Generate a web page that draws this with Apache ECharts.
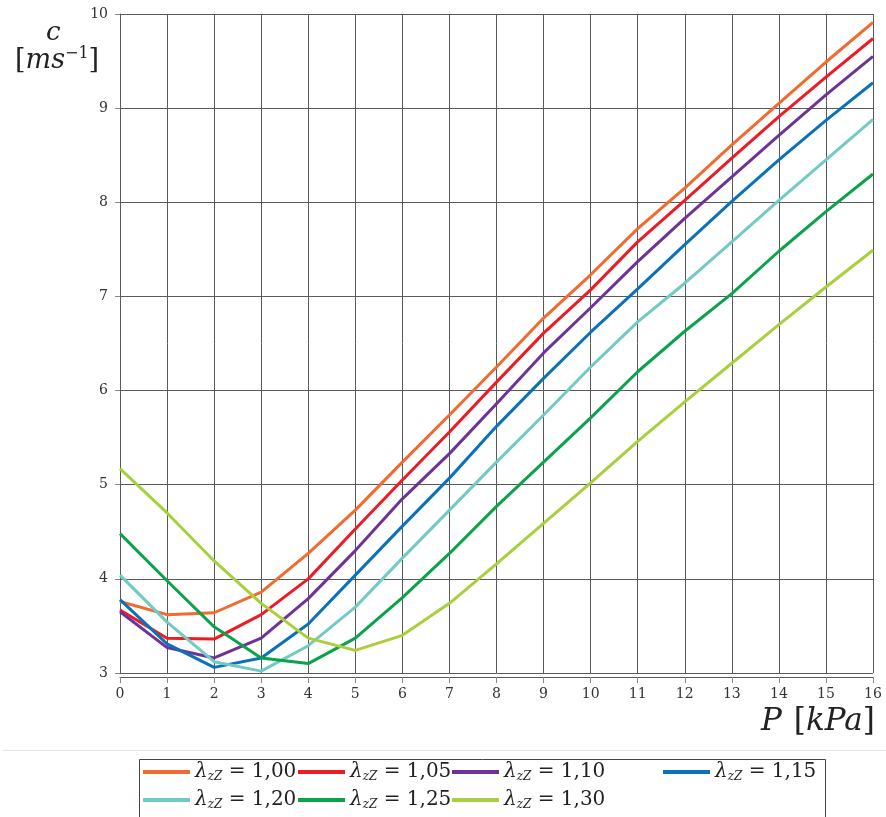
<!DOCTYPE html>
<html>
<head>
<meta charset="utf-8">
<script src="https://cdn.jsdelivr.net/npm/echarts@6/dist/echarts.min.js"></script>
<style>
html,body{margin:0;padding:0;background:#fff;}
#chart{width:886px;height:817px;}
</style>
</head>
<body>
<div id="chart"></div>
<script>
// ---- data ----
var pressure = [0, 1, 2, 3, 4, 5, 6, 7, 8, 9, 10, 11, 12, 13, 14, 15, 16];
var lambdaLabels = ['1,00', '1,05', '1,10', '1,15', '1,20', '1,25', '1,30'];
var c100 = [3.76, 3.62, 3.64, 3.86, 4.27, 4.73, 5.24, 5.74, 6.25, 6.77, 7.23, 7.72, 8.15, 8.61, 9.05, 9.49, 9.91];
var c105 = [3.67, 3.37, 3.36, 3.62, 4.00, 4.53, 5.05, 5.56, 6.09, 6.61, 7.07, 7.58, 8.02, 8.47, 8.91, 9.33, 9.74];
var c110 = [3.65, 3.27, 3.16, 3.37, 3.79, 4.30, 4.85, 5.33, 5.86, 6.40, 6.88, 7.37, 7.83, 8.27, 8.71, 9.14, 9.55];
var c115 = [3.78, 3.31, 3.06, 3.16, 3.52, 4.04, 4.56, 5.07, 5.62, 6.13, 6.62, 7.08, 7.55, 8.01, 8.45, 8.87, 9.27];
var c120 = [4.04, 3.54, 3.12, 3.02, 3.29, 3.70, 4.22, 4.73, 5.24, 5.74, 6.25, 6.73, 7.14, 7.58, 8.02, 8.45, 8.88];
var c125 = [4.48, 3.98, 3.49, 3.16, 3.10, 3.37, 3.80, 4.27, 4.77, 5.24, 5.71, 6.20, 6.63, 7.03, 7.48, 7.90, 8.30];
var c130 = [5.17, 4.70, 4.19, 3.74, 3.37, 3.24, 3.40, 3.74, 4.16, 4.59, 5.02, 5.46, 5.88, 6.29, 6.70, 7.10, 7.49];
var yTicks = [3, 4, 5, 6, 7, 8, 9, 10];
var xTicks = pressure;

var allSeries = [c100, c105, c110, c115, c120, c125, c130];
var colors = ['#F26A2E', '#ED1C24', '#6E3396', '#0A72B8', '#72CAC4', '#0BA24C', '#A9CF3C'];
var names = lambdaLabels.map(function (l) { return 'λzZ = ' + l; });

var serif = '"DejaVu Serif", "Liberation Serif", serif';
var gridColor = '#5a5a5a';

var series = allSeries.map(function (vals, i) {
  return {
    name: names[i],
    type: 'line',
    data: vals.map(function (v, k) { return [pressure[k], v]; }),
    showSymbol: false,
    symbol: 'none',
    lineStyle: { color: colors[i], width: 3 },
    itemStyle: { color: colors[i] },
    z: 3
  };
});

var legendPos = [
  [143, 762], [298, 762], [452, 762], [663, 762],
  [143, 790], [298, 790], [452, 790]
];
var richLegend = {
  l: { fontFamily: serif, fontStyle: 'italic', fontSize: 20, color: '#222' },
  s: { fontFamily: serif, fontStyle: 'italic', fontSize: 12, color: '#222', padding: [10, 0, 0, 0] },
  t: { fontFamily: serif, fontSize: 20, color: '#222' }
};
var legends = names.map(function (n, i) {
  return {
    data: [{ name: n, icon: 'rect' }],
    left: legendPos[i][0],
    top: legendPos[i][1],
    padding: 0,
    itemWidth: 47,
    itemHeight: 4,
    selectedMode: false,
    formatter: function (name) {
      return '{l|λ}{s|zZ}{t| = ' + name.split('= ')[1] + '}';
    },
    textStyle: { rich: richLegend }
  };
});

var chart = echarts.init(document.getElementById('chart'), null, { renderer: 'canvas' });
chart.setOption({
  animation: false,
  backgroundColor: '#fff',
  color: colors,
  title: [
    {
      text: 'c', left: 46, top: 20, padding: 0,
      textStyle: { fontFamily: serif, fontStyle: 'italic', fontWeight: 'normal', fontSize: 26, color: '#222' }
    },
    {
      text: '{b|[}{i|ms}{p|−1}{b|]}', left: 15, top: 46, padding: 0,
      textStyle: {
        fontWeight: 'normal',
        rich: {
          b: { fontFamily: serif, fontWeight: 'normal', fontSize: 27, color: '#222' },
          i: { fontFamily: serif, fontWeight: 'normal', fontStyle: 'italic', fontSize: 27, color: '#222' },
          p: { fontFamily: serif, fontWeight: 'normal', fontSize: 16, color: '#222', padding: [0, 0, 14, 0] }
        }
      }
    },
    {
      text: '{i|P}{g| }{b|[}{i|kPa}{b|]}', left: 761, top: 706, padding: 0,
      textStyle: {
        fontWeight: 'normal',
        rich: {
          b: { fontFamily: serif, fontWeight: 'normal', fontSize: 31, color: '#222' },
          i: { fontFamily: serif, fontWeight: 'normal', fontStyle: 'italic', fontSize: 31, color: '#222' },
          g: { fontFamily: serif, fontSize: 31, width: 12 }
        }
      }
    }
  ],
  legend: legends,
  grid: { left: 120, right: 13, top: 14, bottom: 144, containLabel: false },
  xAxis: {
    type: 'value',
    min: xTicks[0],
    max: xTicks[xTicks.length - 1],
    interval: 1,
    offset: 4,
    axisLine: { show: true, lineStyle: { color: gridColor, width: 1 } },
    axisTick: { show: true, length: 6, lineStyle: { color: '#888' } },
    axisLabel: { fontFamily: serif, fontSize: 14, color: '#333', margin: 10 },
    splitLine: { show: true, lineStyle: { color: gridColor, width: 1 } }
  },
  yAxis: {
    type: 'value',
    min: yTicks[0],
    max: yTicks[yTicks.length - 1],
    interval: 1,
    axisLine: { show: true, lineStyle: { color: gridColor, width: 1 } },
    axisTick: { show: true, length: 5, lineStyle: { color: '#888' } },
    axisLabel: { fontFamily: serif, fontSize: 14, color: '#333', margin: 12 },
    splitLine: { show: true, lineStyle: { color: gridColor, width: 1 } }
  },
  graphic: [
    { type: 'rect', left: 137, top: 757, shape: { width: 686, height: 70 }, style: { fill: 'none', stroke: '#444', lineWidth: 1 } },
    { type: 'line', left: 0, top: 748, shape: { x1: 0, y1: 0, x2: 886, y2: 0 }, style: { stroke: '#e6e6e6', lineWidth: 1 } }
  ],
  series: series
});
</script>
</body>
</html>
